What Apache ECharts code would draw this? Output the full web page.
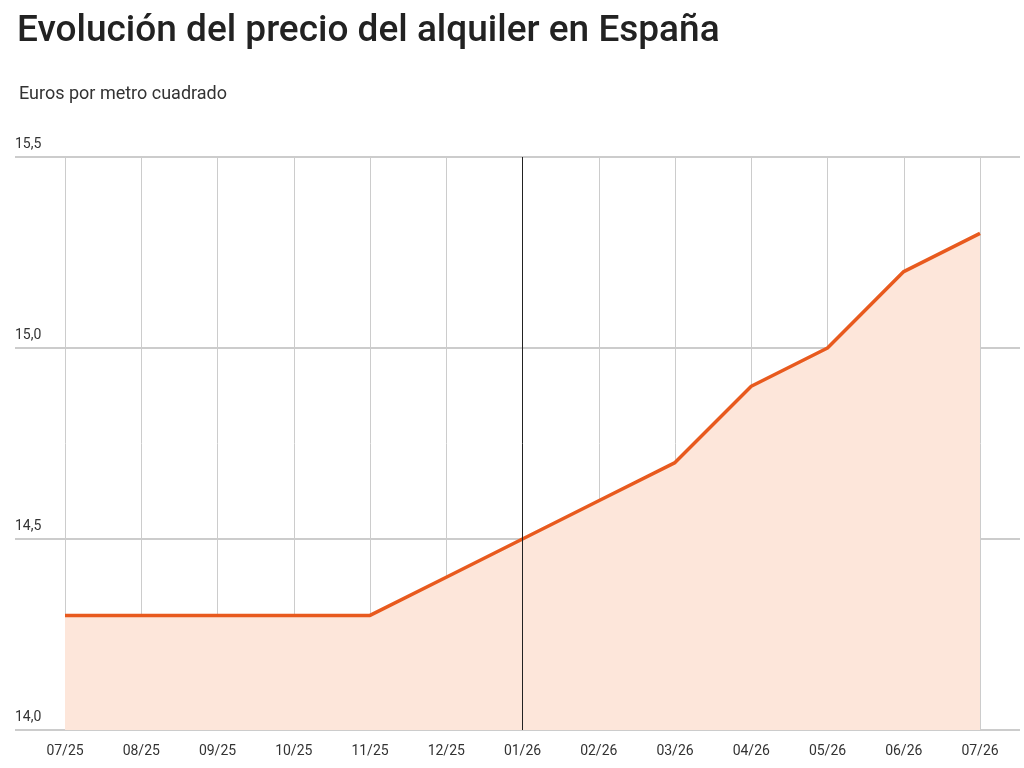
<!DOCTYPE html>
<html>
<head>
<meta charset="utf-8">
<script src="https://cdn.jsdelivr.net/npm/echarts@6/dist/echarts.min.js"></script>
</head>
<body style="margin:0">
<div id="main" style="width:1024px;height:768px;"></div>
<script>
var months = ['07/25','08/25','09/25','10/25','11/25','12/25','01/26','02/26','03/26','04/26','05/26','06/26','07/26'];
var prices = [14.3, 14.3, 14.3, 14.3, 14.3, 14.4, 14.5, 14.6, 14.7, 14.9, 15.0, 15.2, 15.3];
var labelled = [0, 4, 6, 9, 12];

var chart = echarts.init(document.getElementById('main'));
var font = 'Roboto, sans-serif';

var option = {
    animation: false,
    textStyle: { fontFamily: font },
    title: [
        { left: 12, top: 8, text: 'Evolución del precio del alquiler en España',
          textStyle: { fontSize: 37, fontWeight: 500, color: '#222', fontFamily: font } },
        { left: 14, top: 80, text: 'Euros por metro cuadrado',
          textStyle: { fontSize: 18, fontWeight: 'normal', color: '#333', fontFamily: font } }
    ],
    grid: [
        { left: 15, right: 4, top: 157, bottom: 38 },
        { left: 65, right: 44, top: 157, bottom: 38 }
    ],
    xAxis: [
        { gridIndex: 0, type: 'value', min: 0, max: 1, show: false },
        { gridIndex: 1, type: 'category', data: months, boundaryGap: false,
          axisLine: { show: false }, axisTick: { show: false },
          axisLabel: { color: '#333', fontSize: 14, margin: 14 },
          splitLine: { show: true, interval: 0, lineStyle: { color: '#ccc', width: 1 } } }
    ],
    yAxis: [
        { gridIndex: 0, type: 'value', min: 14, max: 15.5, interval: 0.5,
          axisLine: { show: false }, axisTick: { show: false },
          axisLabel: { inside: true, verticalAlign: 'bottom', margin: 0, padding: [0, 0, 6, 0],
                       color: '#333', fontSize: 14,
                       formatter: function (v) { return v.toFixed(1).replace('.', ','); } },
          splitLine: { lineStyle: { color: '#bbb', width: 1.5 } } },
        { gridIndex: 1, type: 'value', min: 14, max: 15.5, show: false, splitLine: { show: false } }
    ],
    series: [{
        type: 'line',
        xAxisIndex: 1, yAxisIndex: 1,
        data: prices,
        symbol: 'circle',
        symbolSize: 1,
        showSymbol: true,
        showAllSymbol: true,
        itemStyle: { color: '#e85a1e', opacity: 0 },
        lineStyle: { color: '#e85a1e', width: 3.5 },
        areaStyle: { color: '#fde6da', opacity: 1 },
        label: {
            show: true, position: 'top', distance: 10,
            fontSize: 16, fontWeight: 'bold', color: '#222',
            formatter: function (p) {
                return labelled.indexOf(p.dataIndex) >= 0 ? String(p.value).replace('.', ',') : '';
            }
        },
        markLine: {
            symbol: 'none', silent: true, label: { show: false },
            lineStyle: { color: '#222', width: 1, type: 'solid' },
            data: [{ xAxis: '01/26' }]
        },
        z: 3
    }]
};
chart.setOption(option);
</script>
</body>
</html>
